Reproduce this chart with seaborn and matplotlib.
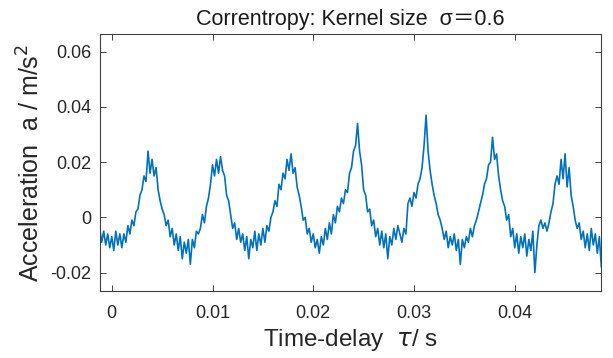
import numpy as np
import pandas as pd
import matplotlib
matplotlib.use("Agg")
import matplotlib.pyplot as plt
import seaborn as sns

# time sampling of the trace (s)
t_start = -0.0012
t_step = 0.0002

# acceleration values (m/s^2)
accel = [
    -0.004, -0.009, -0.005, -0.010, -0.006, -0.011, -0.007, -0.012, -0.005, -0.010,
    -0.006, -0.011, -0.006, -0.009, -0.003, -0.006, -0.001, -0.003, 0.002, 0.003,
    0.008, 0.010, 0.015, 0.013, 0.024, 0.016, 0.021, 0.015, 0.018, 0.010,
    0.006, 0.003, 0.001, -0.003, -0.001, -0.007, -0.004, -0.010, -0.006, -0.012,
    -0.007, -0.015, -0.009, -0.013, -0.008, -0.017, -0.008, -0.011, -0.005, -0.006,
    -0.004, 0.001, -0.002, 0.004, 0.007, 0.012, 0.019, 0.015, 0.021, 0.016,
    0.022, 0.017, 0.015, 0.008, 0.006, 0.001, -0.004, -0.002, -0.008, -0.004,
    -0.009, -0.006, -0.012, -0.007, -0.015, -0.008, -0.011, -0.005, -0.012, -0.006,
    -0.010, -0.004, -0.009, -0.003, -0.005, 0.000, 0.002, 0.006, 0.004, 0.012,
    0.010, 0.016, 0.014, 0.021, 0.017, 0.023, 0.016, 0.018, 0.011, 0.008,
    0.004, -0.001, 0.000, -0.006, -0.004, -0.009, -0.006, -0.011, -0.008, -0.013,
    -0.007, -0.010, -0.004, -0.008, -0.002, -0.006, 0.001, -0.002, 0.004, 0.002,
    0.007, 0.005, 0.010, 0.009, 0.016, 0.018, 0.024, 0.026, 0.034, 0.024,
    0.019, 0.010, 0.008, 0.002, 0.003, -0.003, -0.001, -0.007, -0.004, -0.010,
    -0.005, -0.011, -0.006, -0.015, -0.007, -0.010, -0.004, -0.008, -0.003, -0.006,
    -0.009, -0.004, -0.006, 0.005, 0.007, 0.004, 0.009, 0.007, 0.012, 0.014,
    0.018, 0.026, 0.037, 0.024, 0.017, 0.012, 0.008, 0.005, 0.001, -0.001,
    -0.004, -0.008, -0.005, -0.011, -0.007, -0.010, -0.006, -0.012, -0.008, -0.017,
    -0.008, -0.011, -0.007, -0.009, -0.004, -0.007, -0.003, -0.001, 0.002, 0.005,
    0.008, 0.012, 0.014, 0.019, 0.020, 0.029, 0.021, 0.023, 0.015, 0.010,
    0.006, 0.004, -0.001, 0.001, -0.007, -0.004, -0.011, -0.006, -0.013, -0.007,
    -0.011, -0.006, -0.014, -0.008, -0.012, -0.005, -0.020, -0.010, -0.003, -0.001,
    -0.004, -0.002, -0.005, -0.002, 0.002, 0.005, 0.012, 0.015, 0.012, 0.021,
    0.014, 0.023, 0.011, 0.018, 0.008, 0.004, -0.001, -0.004, -0.002, -0.008,
    -0.005, -0.011, -0.006, -0.012, -0.004, -0.010, -0.006, -0.013, -0.007, -0.018,
]
time = np.round(t_start + t_step * np.arange(len(accel)), 6)

x_ticks = [0, 0.01, 0.02, 0.03, 0.04]
x_tick_labels = ["0", "0.01", "0.02", "0.03", "0.04"]
y_ticks = [-0.02, 0, 0.02, 0.04, 0.06]
y_tick_labels = ["-0.02", "0", "0.02", "0.04", "0.06"]

df = pd.DataFrame({"time": time, "accel": accel})

sns.set_theme(style="white")
plt.rcParams["font.family"] = ["Liberation Sans", "Noto Sans CJK SC", "DejaVu Sans"]

fig = plt.figure(figsize=(6.13, 3.58), dpi=100)
ax = fig.add_axes([0.1626, 0.187, 0.8184, 0.717])

sns.lineplot(data=df, x="time", y="accel", color="#0072BD", linewidth=1.2,
             estimator=None, ax=ax)

ax.set_xlim(-0.0012, 0.0486)
ax.set_ylim(-0.0267, 0.0663)
ax.set_xticks(x_ticks)
ax.set_xticklabels(x_tick_labels)
ax.set_yticks(y_ticks)
ax.set_yticklabels(y_tick_labels)

frame_col = "#404040"
for sp in ax.spines.values():
    sp.set_visible(True)
    sp.set_color(frame_col)
    sp.set_linewidth(0.8)

ax.tick_params(axis="both", which="major", direction="in", length=4, width=0.7,
               color=frame_col, labelcolor="#262626", labelsize=13,
               top=True, right=True, bottom=True, left=True)
ax.tick_params(axis="x", pad=10)
ax.tick_params(axis="y", pad=6)

ax.set_title("Correntropy: Kernel size  σ＝0.6", fontsize=15.5, color="#1a1a1a", pad=7)
ax.set_xlabel("Time-delay  $\\mathit{\\tau}$/ s", fontsize=17.5, color="#262626", labelpad=4)
ax.set_ylabel("Acceleration  a / m/s$^2$", fontsize=18, color="#262626", labelpad=4)

fig.savefig("out.png", dpi=100)
